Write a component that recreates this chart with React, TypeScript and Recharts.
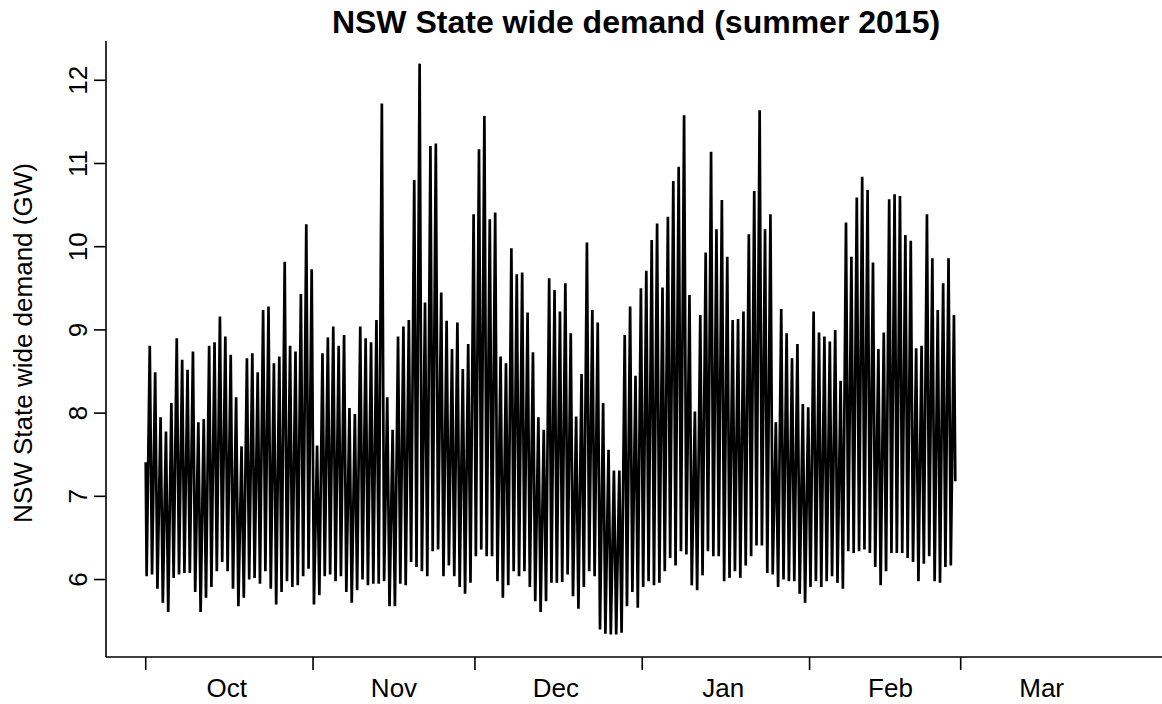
import { LineChart, Line, XAxis, YAxis } from "recharts"

const FONT = '"Liberation Sans", Arial, Helvetica, sans-serif'

// days counted from 1 October
const monthStarts = [0, 31, 61, 92, 123, 151]
const monthLabels = ["Oct", "Nov", "Dec", "Jan", "Feb", "Mar"]
const monthMids = monthStarts.map((d) => d + 15)
const yTicks = [6, 7, 8, 9, 10, 11, 12]

// demand in GW: first and last half-hour reading, then daily trough and daily peak
const startDemand = 7.41
const endDemand = 7.18

const dailyLow = [
  6.04, 6.06, 5.89, 5.72, 5.61, 6.02, 6.06, 6.08, 6.08, 5.85,
  5.61, 5.78, 5.91, 6.1, 6.21, 6.1, 5.89, 5.68, 5.78, 6.0,
  6.02, 5.95, 6.1, 5.89, 5.7, 5.85, 5.98, 5.91, 5.93, 6.04,
  6.13, 5.7, 5.81, 6.04, 6.06, 5.98, 6.04, 5.85, 5.72, 5.87,
  6.0, 5.93, 5.95, 5.95, 5.98, 5.68, 5.68, 5.95, 5.93, 6.21,
  6.15, 6.1, 6.04, 6.34, 6.36, 6.04, 6.17, 6.04, 5.91, 5.83,
  5.96, 6.28, 6.36, 6.28, 6.28, 5.98, 5.78, 5.93, 6.1, 6.04,
  6.1, 5.91, 5.74, 5.61, 5.74, 5.96, 5.96, 5.97, 6.06, 5.8,
  5.65, 5.91, 6.1, 6.04, 5.4, 5.35, 5.34, 5.34, 5.36, 5.68,
  5.85, 5.66, 5.91, 5.98, 5.93, 5.96, 6.1, 6.26, 6.17, 6.34,
  6.3, 5.93, 5.87, 6.05, 6.34, 6.28, 6.28, 5.98, 6.02, 6.1,
  6.02, 6.17, 6.28, 6.41, 6.41, 6.08, 6.06, 5.91, 6.0, 5.98,
  5.98, 5.83, 5.72, 5.91, 5.98, 5.91, 5.98, 6.04, 5.96, 5.89,
  6.34, 6.32, 6.34, 6.36, 6.32, 6.15, 5.93, 6.1, 6.32, 6.32,
  6.32, 6.26, 6.21, 5.98, 6.19, 6.28, 5.98, 5.96, 6.15, 6.17,
]

const dailyHigh = [
  8.81, 8.49, 7.95, 7.78, 8.12, 8.9, 8.64, 8.52, 8.74, 7.89,
  7.93, 8.81, 8.85, 9.16, 8.92, 8.7, 8.19, 7.6, 8.66, 8.72,
  8.49, 9.24, 9.28, 8.6, 8.68, 9.82, 8.81, 8.74, 9.43, 10.27,
  9.73, 7.61, 8.72, 8.91, 9.04, 8.81, 8.94, 8.06, 7.99, 9.04,
  8.9, 8.85, 9.12, 11.72, 8.19, 7.8, 8.92, 9.04, 9.12, 10.8,
  12.2, 9.33, 11.21, 11.24, 9.45, 9.11, 8.77, 9.09, 8.53, 8.83,
  10.39, 11.17, 11.57, 10.33, 10.41, 8.68, 8.6, 9.98, 9.67, 9.69,
  9.21, 8.73, 7.95, 7.8, 9.62, 9.48, 9.22, 9.56, 8.96, 7.96,
  8.47, 10.05, 9.24, 9.09, 8.12, 7.56, 7.31, 7.31, 8.94, 9.28,
  8.45, 9.5, 9.71, 10.08, 10.28, 9.51, 10.36, 10.79, 10.96, 11.58,
  9.42, 8.02, 9.18, 9.93, 11.14, 10.21, 10.56, 9.88, 9.12, 9.13,
  9.22, 10.15, 10.67, 11.64, 10.21, 10.39, 7.89, 9.25, 8.96, 8.66,
  8.83, 8.11, 8.07, 9.22, 8.97, 8.92, 8.86, 9.0, 8.39, 10.29,
  9.88, 10.59, 10.84, 10.68, 9.81, 8.77, 8.97, 10.57, 10.63, 10.61,
  10.14, 10.07, 8.78, 8.81, 10.39, 9.86, 9.24, 9.56, 9.86, 9.18,
]

// trough around 4am, peak around 6pm
const data: { day: number; demand: number }[] = [{ day: 0, demand: startDemand }]
dailyLow.forEach((low, i) => {
  data.push({ day: i + 0.17, demand: low })
  data.push({ day: i + 0.75, demand: dailyHigh[i] })
})
data.push({ day: dailyLow.length, demand: endDemand })

const X_DOMAIN: [number, number] = [-7.36, 188.3]
const Y_DOMAIN: [number, number] = [5.069, 12.472]

function MonthTick(props: any) {
  const { x, y, payload } = props
  const start = monthStarts.indexOf(payload.value)
  if (start >= 0) {
    return <line x1={x} x2={x} y1={y} y2={y + 13} stroke="#000" strokeWidth={1.6} />
  }
  const mid = monthMids.indexOf(payload.value)
  return (
    <text x={x} y={y + 40} textAnchor="middle" fontSize={26} fontFamily={FONT} fill="#000">
      {monthLabels[mid]}
    </text>
  )
}

function DemandTick(props: any) {
  const { x, y, payload } = props
  const bx = x - 7
  return (
    <g transform={`translate(${bx}, ${y}) rotate(-90)`}>
      <text x={0} y={0} textAnchor="middle" fontSize={26} fontFamily={FONT} fill="#000">
        {payload.value}
      </text>
    </g>
  )
}

function YTitle() {
  return (
    <g transform="translate(32, 343) rotate(-90)">
      <text x={0} y={0} textAnchor="middle" fontSize={26} fontFamily={FONT} fill="#000">
        NSW State wide demand (GW)
      </text>
    </g>
  )
}

export default function App() {
  return (
    <div style={{ position: "absolute", left: 0, top: 0, width: 1162, height: 704, background: "#fff" }}>
      <div
        style={{
          position: "absolute",
          left: 636,
          top: 2,
          transform: "translateX(-50%)",
          whiteSpace: "nowrap",
          fontFamily: FONT,
          fontWeight: "bold",
          fontSize: 32,
          lineHeight: "40px",
        }}
      >
        NSW State wide demand (summer 2015)
      </div>
      <LineChart width={1162} height={704} data={data} margin={{ top: 41, right: 0, bottom: 0, left: 0 }}>
        <XAxis
          xAxisId="top"
          orientation="top"
          type="number"
          dataKey="day"
          domain={X_DOMAIN}
          height={0}
          tick={false}
          tickLine={false}
          axisLine={{ stroke: "#000", strokeWidth: 1.6 }}
        />
        <XAxis
          type="number"
          dataKey="day"
          domain={X_DOMAIN}
          allowDataOverflow
          ticks={[...monthStarts, ...monthMids].sort((a, b) => a - b)}
          interval={0}
          height={47}
          tickSize={0}
          tickMargin={0}
          tickLine={false}
          tick={<MonthTick />}
          axisLine={{ stroke: "#000", strokeWidth: 1.6 }}
        />
        <YAxis
          type="number"
          domain={Y_DOMAIN}
          allowDataOverflow
          ticks={yTicks}
          interval={0}
          width={106}
          tickSize={12}
          tickMargin={0}
          tickLine={{ stroke: "#000", strokeWidth: 1.6 }}
          tick={<DemandTick />}
          axisLine={{ stroke: "#000", strokeWidth: 1.6 }}
          label={<YTitle />}
        />
        <Line
          type="linear"
          dataKey="demand"
          stroke="#000"
          strokeWidth={2.7}
          dot={false}
          isAnimationActive={false}
        />
      </LineChart>
    </div>
  )
}
